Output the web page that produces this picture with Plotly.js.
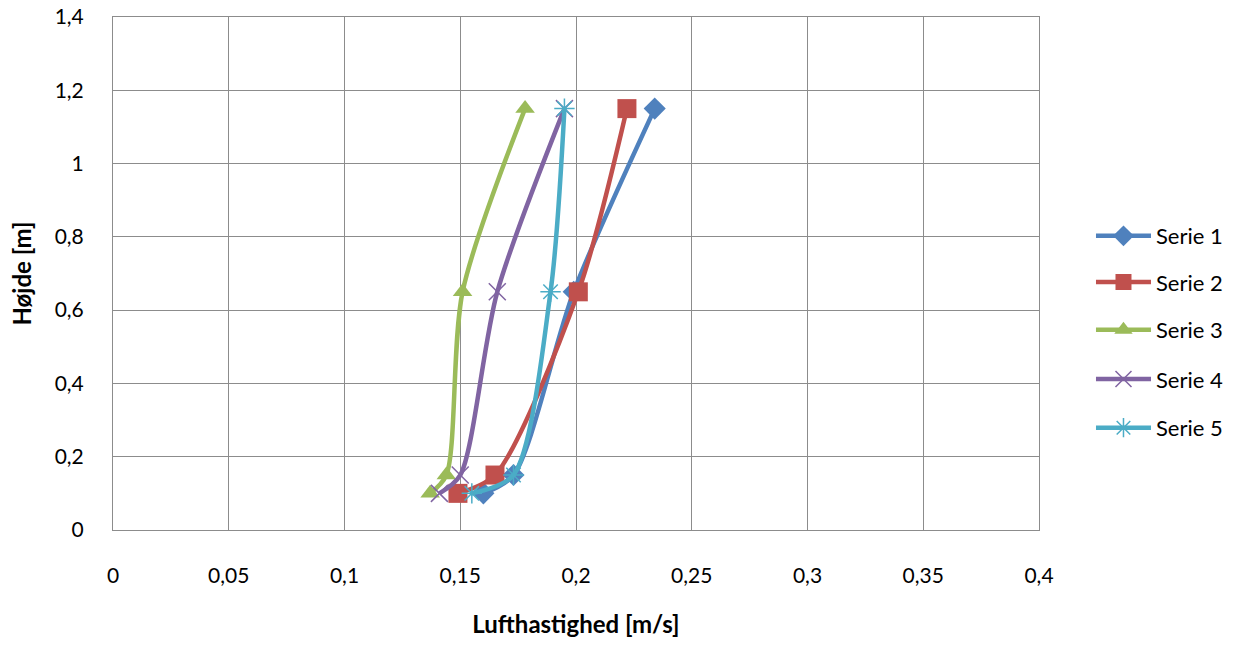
<!DOCTYPE html>
<html>
<head>
<meta charset="utf-8">
<script src="https://cdn.plot.ly/plotly-3.0.1.min.js"></script>
<style>html,body{margin:0;padding:0;background:#fff;}#chart{width:1240px;height:646px;}</style>
</head>
<body>
<div id="chart"></div>
<script>
const heights = [0.1, 0.15, 0.65, 1.15];
const seriesNames = ["Serie 1", "Serie 2", "Serie 3", "Serie 4", "Serie 5"];
const serie1 = [0.160, 0.173, 0.199, 0.234];
const serie2 = [0.149, 0.165, 0.201, 0.222];
const serie3 = [0.137, 0.144, 0.151, 0.178];
const serie4 = [0.141, 0.150, 0.166, 0.195];
const serie5 = [0.155, 0.173, 0.189, 0.195];
const xTicks = [0, 0.05, 0.1, 0.15, 0.2, 0.25, 0.3, 0.35, 0.4];
const xTickLabels = ["0", "0,05", "0,1", "0,15", "0,2", "0,25", "0,3", "0,35", "0,4"];
const yTicks = [0, 0.2, 0.4, 0.6, 0.8, 1, 1.2, 1.4];
const yTickLabels = ["0", "0,2", "0,4", "0,6", "0,8", "1", "1,2", "1,4"];

const colors = ["#4F81BD", "#C0504D", "#9BBB59", "#8064A2", "#4BACC6"];
const symbols = ["diamond", "square", "triangle-up", "x-thin-open", "asterisk-open"];
const sizes = [17, 19, 17, 17, 17];
const allX = [serie1, serie2, serie3, serie4, serie5];
const legendIds = ["legend", "legend2", "legend3", "legend4", "legend5"];
const legendY = [0.573, 0.483, 0.390, 0.294, 0.199];

const traces = allX.map((xs, i) => ({
  x: xs, y: heights, name: seriesNames[i], type: "scatter", mode: "lines+markers",
  legend: legendIds[i],
  line: {color: colors[i], width: 4.5, shape: "spline", smoothing: 0.8},
  marker: {symbol: symbols[i], size: sizes[i], color: colors[i],
           line: {color: colors[i], width: (i >= 3 ? 1.5 : 0)}}
}));

const font = "Lato, 'Open Sans', sans-serif";
const layout = {
  width: 1240, height: 646,
  margin: {l: 113, r: 200, t: 17, b: 116},
  paper_bgcolor: "#fff", plot_bgcolor: "#fff",
  font: {family: font, size: 21, color: "#000"},
  showlegend: true,
  xaxis: {range: [0, 0.4], tickvals: xTicks, ticktext: xTickLabels, showgrid: true,
          gridcolor: "#8c8c8c", gridwidth: 1, showline: true, linecolor: "#8c8c8c", mirror: true,
          zeroline: false, ticks: "", ticklabelstandoff: 27,
          title: {text: "<b>Lufthastighed [m/s]</b>", font: {family: font, size: 24}, standoff: 29}},
  yaxis: {range: [0, 1.4], tickvals: yTicks, ticktext: yTickLabels, showgrid: true,
          gridcolor: "#8c8c8c", gridwidth: 1, showline: true, linecolor: "#8c8c8c", mirror: true,
          zeroline: false, ticks: "", ticklabelstandoff: 24,
          title: {text: "<b>Højde [m]</b>", font: {family: font, size: 24}, standoff: 16}}
};
legendIds.forEach((id, i) => {
  layout[id] = {x: 1.055, y: legendY[i], xanchor: "left", yanchor: "middle", itemwidth: 55,
                font: {family: font, size: 22, color: "#000"}, bgcolor: "rgba(0,0,0,0)"};
});
Plotly.newPlot("chart", traces, layout, {displayModeBar: false});
</script>
</body>
</html>
